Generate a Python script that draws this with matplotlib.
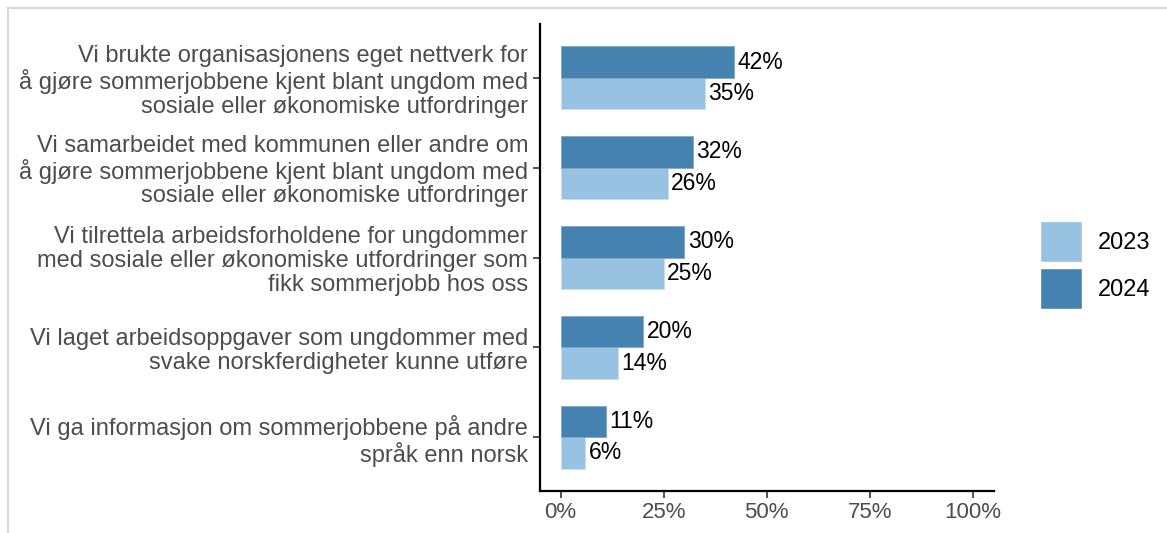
import matplotlib.pyplot as plt
from matplotlib.lines import Line2D
from matplotlib.patches import Patch
import numpy as np

plt.rcParams['font.family'] = ['Liberation Sans', 'DejaVu Sans']

# Data
categories = [
    'Vi brukte organisasjonens eget nettverk for\nå gjøre sommerjobbene kjent blant ungdom med\nsosiale eller økonomiske utfordringer',
    'Vi samarbeidet med kommunen eller andre om\nå gjøre sommerjobbene kjent blant ungdom med\nsosiale eller økonomiske utfordringer',
    'Vi tilrettela arbeidsforholdene for ungdommer\nmed sosiale eller økonomiske utfordringer som\nfikk sommerjobb hos oss',
    'Vi laget arbeidsoppgaver som ungdommer med\nsvake norskferdigheter kunne utføre',
    'Vi ga informasjon om sommerjobbene på andre\nspråk enn norsk',
]
values_2023 = [35, 26, 25, 14, 6]
values_2024 = [42, 32, 30, 20, 11]
years = ['2023', '2024']
colors = {'2023': '#98C2E2', '2024': '#4682AF'}

fig = plt.figure(figsize=(11.67, 5.33), dpi=100)
ax = fig.add_axes([540 / 1167, 42 / 533, 453.6 / 1167, 467 / 533])

n = len(categories)
y = np.arange(n)[::-1].astype(float)
h = 0.35

ax.barh(y - h / 2, values_2023, height=h, color=colors['2023'], edgecolor='#C8DDEE', linewidth=0.6)
ax.barh(y + h / 2, values_2024, height=h, color=colors['2024'], edgecolor='#7FA8C8', linewidth=0.6)

for yy, v in zip(y, values_2023):
    ax.text(v + 0.8, yy - h / 2, f'{v}%', va='center', ha='left', fontsize=16.5, color='black')
for yy, v in zip(y, values_2024):
    ax.text(v + 0.8, yy + h / 2, f'{v}%', va='center', ha='left', fontsize=16.5, color='black')

ax.set_xlim(-5, 105)
ax.set_ylim(-0.6, n - 0.4)
ax.set_xticks([0, 25, 50, 75, 100])
ax.set_xticklabels(['0%', '25%', '50%', '75%', '100%'])
ax.set_yticks(y)
ax.set_yticklabels(categories, linespacing=1.1)

ax.tick_params(axis='both', colors='#333333', labelcolor='#4D4D4D', labelsize=17, length=5, width=1.2)
ax.tick_params(axis='x', labelsize=16, pad=3)
for s in ['top', 'right']:
    ax.spines[s].set_visible(False)
for s in ['left', 'bottom']:
    ax.spines[s].set_linewidth(1.6)
    ax.spines[s].set_color('black')

handles = [Patch(facecolor=colors[yr], edgecolor='white', label=yr) for yr in years]
fig.legend(handles=handles, loc='center left', bbox_to_anchor=(1040 / 1167, 1 - 265 / 533),
           frameon=False, fontsize=17, handlelength=1.78, handleheight=2.3,
           handletextpad=0.68, labelspacing=0.23, borderpad=0, borderaxespad=0)

# light frame around the picture
fig.add_artist(Line2D([8 / 1167, 8 / 1167], [0, 1 - 8 / 533], color='#D9D9D9', linewidth=1.6))
fig.add_artist(Line2D([8 / 1167, 1], [1 - 8 / 533, 1 - 8 / 533], color='#D9D9D9', linewidth=1.6))

fig.savefig('out.png', dpi=100)
